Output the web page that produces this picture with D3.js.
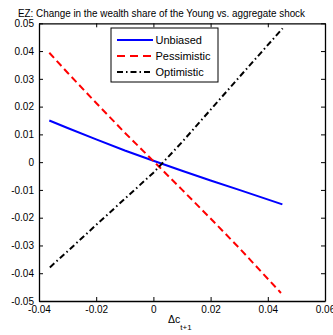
<!DOCTYPE html>
<html>
<head>
<meta charset="utf-8">
<script src="https://cdn.jsdelivr.net/npm/d3@7"></script>
<style>
  body { margin: 0; background: #fff; }
  svg { display: block; font-family: "Liberation Sans", Arial, sans-serif; }
</style>
</head>
<body>
<div id="chart"></div>
<script>
// values
const seriesNames = ["Unbiased", "Pessimistic", "Optimistic"];
const unbiasedX = [-0.0364, -0.03, -0.02, -0.01, 0, 0.01, 0.02, 0.03, 0.0451];
const unbiasedY = [0.0150, 0.0123, 0.0082, 0.0042, 0.0005, -0.0031, -0.0066, -0.0100, -0.0152];
const pessimisticX = [-0.0364, -0.03, -0.02, -0.01, 0, 0.01, 0.02, 0.03, 0.0446];
const pessimisticY = [0.0394, 0.0322, 0.0213, 0.0106, 0.0004, -0.0099, -0.0203, -0.0309, -0.0471];
const optimisticX = [-0.0362, -0.03, -0.02, -0.01, 0, 0.01, 0.02, 0.03, 0.0452];
const optimisticY = [-0.0379, -0.0321, -0.0226, -0.0132, -0.0038, 0.0072, 0.0189, 0.0306, 0.0482];
const xTicks = [-0.04, -0.02, 0, 0.02, 0.04, 0.06];
const yTicks = [-0.05, -0.04, -0.03, -0.02, -0.01, 0, 0.01, 0.02, 0.03, 0.04, 0.05];

const width = 333, height = 335;
const margin = { top: 23.3, right: 8, bottom: 34, left: 39 };

const svg = d3.select("#chart").append("svg")
  .attr("width", width)
  .attr("height", height);

const x = d3.scaleLinear().domain([-0.04, 0.06]).range([margin.left, width - margin.right]);
const y = d3.scaleLinear().domain([-0.05, 0.05]).range([height - margin.bottom, margin.top]);

const fmt = d => d === 0 ? "0" : d3.format(".2f")(d).replace("−", "-");

// axes, ticks inside, box on all sides
const tickLen = 4;
const axBottom = svg.append("g").attr("transform", `translate(0,${y(-0.05)})`)
  .call(d3.axisBottom(x).tickValues(xTicks).tickSizeInner(-tickLen).tickSizeOuter(0).tickPadding(5).tickFormat(fmt));
const axTop = svg.append("g").attr("transform", `translate(0,${y(0.05)})`)
  .call(d3.axisTop(x).tickValues(xTicks).tickSizeInner(-tickLen).tickSizeOuter(0).tickFormat(""));
const axLeft = svg.append("g").attr("transform", `translate(${x(-0.04)},0)`)
  .call(d3.axisLeft(y).tickValues(yTicks).tickSizeInner(-tickLen).tickSizeOuter(0).tickPadding(5).tickFormat(fmt));
const axRight = svg.append("g").attr("transform", `translate(${x(0.06)},0)`)
  .call(d3.axisRight(y).tickValues(yTicks).tickSizeInner(-tickLen).tickSizeOuter(0).tickFormat(""));

[axBottom, axTop, axLeft, axRight].forEach(g => {
  g.select(".domain").attr("stroke", "#000").attr("stroke-width", 1.3);
  g.selectAll(".tick line").attr("stroke", "#000").attr("stroke-width", 1);
  g.selectAll(".tick text").attr("fill", "#000").style("font-size", "10px")
    .style("font-family", "'Liberation Sans', Arial, sans-serif");
});

// lines
const line = d3.line().x(d => x(d[0])).y(d => y(d[1]));
const styles = [
  { color: "#0000ff", dash: null },
  { color: "#ff0000", dash: "7,4" },
  { color: "#000000", dash: "6,3,1.5,3" }
];
const series = [
  d3.zip(unbiasedX, unbiasedY),
  d3.zip(pessimisticX, pessimisticY),
  d3.zip(optimisticX, optimisticY)
];

series.forEach((pts, i) => {
  svg.append("path")
    .datum(pts)
    .attr("d", line)
    .attr("fill", "none")
    .attr("stroke", styles[i].color)
    .attr("stroke-width", 2)
    .attr("stroke-dasharray", styles[i].dash);
});

// title
svg.append("text")
  .attr("x", 161.5)
  .attr("y", 17)
  .attr("text-anchor", "middle")
  .attr("textLength", 287)
  .attr("lengthAdjust", "spacingAndGlyphs")
  .style("font-size", "10.5px")
  .text("EZ: Change in the wealth share of the Young vs. aggregate shock");

// x label
const xl = svg.append("text")
  .attr("x", 168)
  .attr("y", 323)
  .style("font-size", "10.5px");
xl.append("tspan").text("\u0394c");
xl.append("tspan").attr("dy", 7).style("font-size", "8px").text("t+1");

// legend
const legend = svg.append("g");
legend.append("rect")
  .attr("x", 111).attr("y", 28).attr("width", 107).attr("height", 54)
  .attr("fill", "#fff").attr("stroke", "#000").attr("stroke-width", 1);
seriesNames.forEach((name, i) => {
  const ly = 40 + i * 16;
  legend.append("line")
    .attr("x1", 117).attr("x2", 153).attr("y1", ly).attr("y2", ly)
    .attr("stroke", styles[i].color)
    .attr("stroke-width", 2)
    .attr("stroke-dasharray", styles[i].dash === "7,4" ? "8,5" : styles[i].dash);
  legend.append("text")
    .attr("x", 155.5).attr("y", ly + 4)
    .style("font-size", "11px")
    .text(name);
});
</script>
</body>
</html>
